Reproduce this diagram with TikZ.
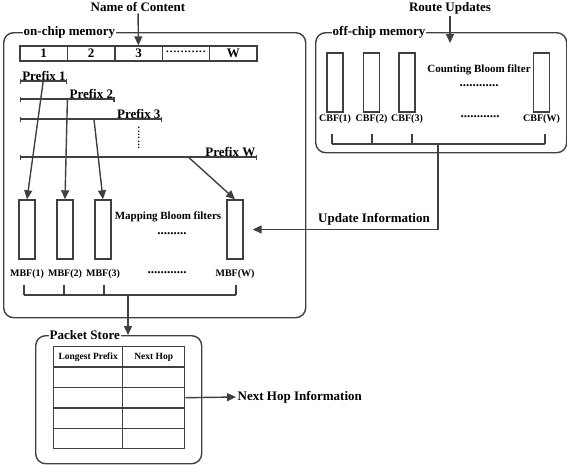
\documentclass[tikz,border=0pt]{standalone}
\usepackage{fontspec}
\setmainfont{Liberation Serif}
\usepackage{xcolor}
\usetikzlibrary{shapes, arrows.meta, calc, positioning, fit}
\definecolor{linegrey}{rgb}{0.25, 0.25, 0.25}

\begin{document}
\begin{tikzpicture}[x=1pt, y=-1pt, line width=1.4pt, color=linegrey, >={Triangle[length=9pt, width=8pt]}]%{{{
        \useasboundingbox (0, 0) rectangle (567, 464);

        \tikzstyle{lbl} = [text=black, font=\fontsize{13}{15}\bfseries\selectfont, inner sep=1pt];
        \tikzstyle{small} = [text=black, font=\fontsize{10}{12}\bfseries\selectfont, inner sep=1pt];
        \tikzstyle{mid} = [text=black, font=\fontsize{11}{13}\bfseries\selectfont, inner sep=1pt];
        \tikzstyle{mem} = [draw, rounded corners=10pt, anchor=north west, inner sep=0pt];
        \tikzstyle{tag} = [lbl, fill=white, anchor=west];
        \tikzstyle{bf} = [draw, minimum width=16, minimum height=59, inner sep=0pt];
        \tikzstyle{cell} = [draw, lbl, minimum width=47.4, minimum height=15, inner sep=0pt];
        \tikzstyle{tcell} = [draw, minimum height=20.4, inner sep=0pt, anchor=north west,
            text=black, font=\fontsize{9.5}{11}\bfseries\selectfont];

        % on-chip memory
        \node [mem, minimum width=302, minimum height=285] (onchip) at (3, 32) { };
        \node [tag] (onchipl) at (22, 32) {on-chip memory};

        \foreach \na/\txt in {1/1, 2/2, 3/3, 4/{{\fontsize{11}{11}\selectfont ···········}}, 5/W}{
            \node [cell] (cell\na) at (20 + 47.4*\na - 23.7, 53.5) {\txt};
        }

        \node [lbl] (name) at (138, 7) {Name of Content};
        \draw [->] (name) -- (cell3);

        \foreach \na/\xe/\ye in {1/67.4/81, 2/114.8/99, 3/162.2/119, W/257/157}{
            \coordinate (P\na s) at (20, \ye);
            \coordinate (P\na e) at (\xe, \ye);
            \draw [{Bar[width=5pt]}-{Bar[width=5pt]}] (P\na s) -- (P\na e);
            \node [lbl, anchor=south east, yshift=-1pt] (P\na l) at (P\na e) {Prefix \na};
        }
        \node [small, rotate=90] (vdots) at (140, 138) {·······};

        \foreach \na/\xc in {1/27, 2/65, 3/103, W/235}{
            \node [bf] (M\na) at (\xc, 229.5) { };
            \node [small, below=8pt of M\na] (M\na l) {MBF(\na)};
        }
        \node [mid] (Mtitle) at (168, 217) {Mapping Bloom filters};
        \node [lbl] (Mdots) at (172, 234) {.........};
        \node [lbl] (Mldots) at (167, 273) {............};

        \coordinate (A1) at ($(P1s)!0.49!(P1e)$);
        \coordinate (A2) at (67.4, 99);
        \coordinate (A3) at ($(P3s)!0.52!(P3e)$);
        \coordinate (AW) at ($(PWs)!0.71!(PWe)$);
        \foreach \na in {1, 2, 3, W}{
            \draw [->] (A\na) -- (M\na.north);
        }

        \foreach \na/\xt in {1/24, 2/64, 3/104, W/236}{
            \draw (\xt, 285) -- (\xt, 295);
        }
        \draw (24, 295) -- (236, 295);
        \coordinate (Mbus) at (128, 295);

        % packet store
        \node [mem, minimum width=166, minimum height=128] (store) at (35, 335) { };
        \node [tag] (storel) at (48, 335) {Packet Store};
        \draw [->] (Mbus) -- (Mbus |- store.north);

        \node [tcell, minimum width=69] (T01) at (53, 346) {Longest Prefix};
        \node [tcell, minimum width=62] (T02) at (122, 346) {Next Hop};
        \foreach \nr in {1, ..., 4}{
            \node [tcell, minimum width=69] (T\nr 1) at (53, 346 + 20.4*\nr) { };
            \node [tcell, minimum width=62] (T\nr 2) at (122, 346 + 20.4*\nr) { };
        }
        \node [lbl, anchor=west] (nexthop) at (236, 397) {Next Hop Information};
        \draw [->] (T22.east) -- (nexthop.west);

        % off-chip memory
        \node [mem, minimum width=251, minimum height=120] (offchip) at (315, 32) { };
        \node [tag] (offchipl) at (331, 32) {off-chip memory};
        \node [lbl] (route) at (450, 8) {Route Updates};
        \coordinate (Rtip) at (450, 43);
        \draw [->] (route) -- (Rtip);

        \foreach \na/\xc in {1/335, 2/371.5, 3/407, W/541.5}{
            \node [bf] (C\na) at (\xc, 82.5) { };
            \node [small, below=0pt of C\na] (C\na l) {CBF(\na)};
        }
        \node [mid] (Ctitle) at (479, 70) {Counting Bloom filter};
        \node [lbl] (Cdots) at (479, 86) {............};
        \node [lbl] (Cldots) at (480, 117) {............};

        \foreach \na/\xt in {1/332, 2/372, 3/412, W/545}{
            \draw (\xt, 134) -- (\xt, 144);
        }
        \draw (332, 144) -- (545, 144);
        \coordinate (Cbus) at (438, 144);

        \coordinate (Utip) at ($(MW.east) + (9, 0)$);
        \draw [->] (Cbus) |- (Utip);
        \node [lbl] (update) at (374, 219) {Update Information};
    \end{tikzpicture}%}}}
\end{document}
